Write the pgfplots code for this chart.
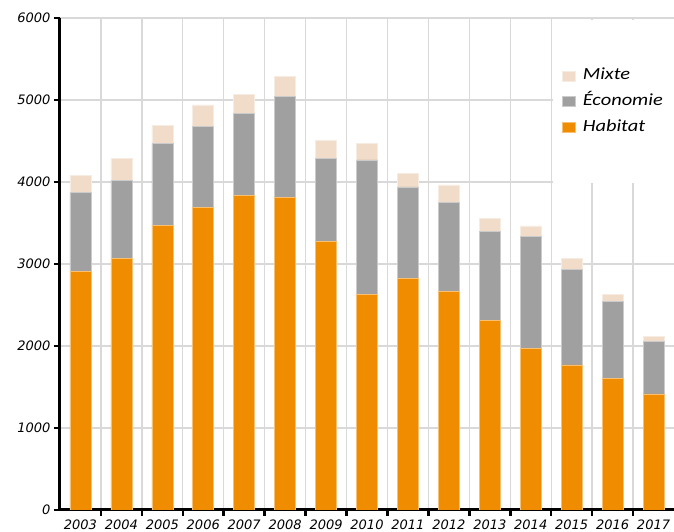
\documentclass[border=0pt]{standalone}
\usepackage{fontspec}
\setmainfont{DejaVu Sans}
\newfontfamily\legfont[FakeStretch=1.2]{Carlito}
\usepackage{pgfplots}
\usepackage{pgfplotstable}
\pgfplotsset{compat=1.18}
\definecolor{hab}{RGB}{240,140,0}
\definecolor{eco}{RGB}{160,160,160}
\definecolor{mix}{RGB}{240,220,200}
\definecolor{gridc}{RGB}{217,217,217}
\pgfplotstableread{
x hab eco mix
0 2910 960 215
1 3070 945 270
2 3475 995 225
3 3690 985 265
4 3840 1000 230
5 3815 1230 240
6 3280 1005 225
7 2625 1645 200
8 2825 1115 165
9 2670 1085 210
10 2310 1085 165
11 1970 1365 130
12 1770 1165 135
13 1600 945 85
14 1415 645 55
}\data
\begin{document}
\begin{tikzpicture}
\path[use as bounding box] (-60pt,-22pt) rectangle (614pt,510pt);
\begin{axis}[
  at={(0,0)}, anchor=south west,
  width=614pt, height=492pt, scale only axis,
  ybar stacked, bar width=21pt,
  xmin=-0.5, xmax=14.5, ymin=0, ymax=6000,
  axis lines*=left,
  axis line style={line width=3pt, black},
  tick align=outside,
  xtick={0,...,14},
  xticklabels={2003,2004,2005,2006,2007,2008,2009,2010,2011,2012,2013,2014,2015,2016,2017},
  minor xtick={0.5,1.5,...,13.5},
  ytick={0,1000,...,6000},
  major tick length=6pt, minor tick length=6pt,
  x tick style={draw=none},
  minor x tick style={draw=black, line width=2.5pt},
  y tick style={black, line width=2.5pt},
  ymajorgrids, xminorgrids,
  major grid style={gridc, line width=1.3pt},
  minor grid style={gridc, line width=1.3pt},
  /pgf/number format/assume math mode=true,
  /pgf/number format/1000 sep={},
  tick label style={font=\itshape\fontsize{13pt}{15pt}\selectfont},
  reverse legend,
  legend cell align=left,
  legend image code/.code={\fill[#1] (0pt,-5pt) rectangle (13pt,5pt); \path (18pt,0pt);},
  legend style={at={(0.803,0.996)}, anchor=north west, draw=none, fill=white,
    inner xsep=9pt, inner ysep=43pt,
    font=\legfont\itshape\fontsize{17pt}{21pt}\selectfont,
    nodes={text height=12pt, text depth=4pt, inner ysep=4.8pt}},
]
\addplot[fill=hab, draw=hab!55!white, line width=0.6pt] table[x=x,y=hab]{\data};
\addlegendentry{Habitat}
\addplot[fill=eco, draw=eco!55!white, line width=0.6pt] table[x=x,y=eco]{\data};
\addlegendentry{Économie}
\addplot[fill=mix, draw=mix!55!white, line width=0.6pt] table[x=x,y=mix]{\data};
\addlegendentry{Mixte}
\end{axis}
\end{tikzpicture}
\end{document}
